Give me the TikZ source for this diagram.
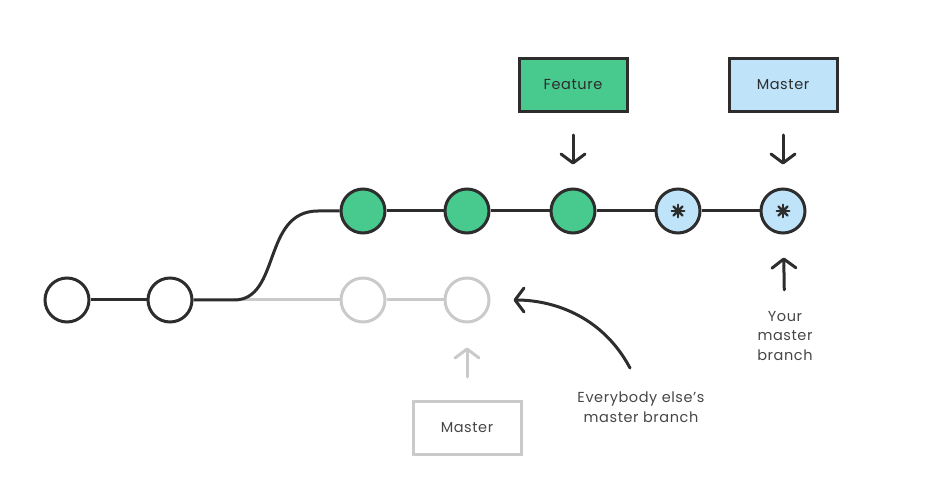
\documentclass[tikz,border=0pt]{standalone}
\usepackage{fontspec}
\setmainfont{Poppins}[LetterSpace=4]
\usepackage{tikz}
\usetikzlibrary{arrows.meta}
\definecolor{inkline}{RGB}{45,45,45}
\definecolor{ghostline}{RGB}{202,202,202}
\definecolor{featfill}{RGB}{72,201,142}
\definecolor{mastfill}{RGB}{191,228,250}
\definecolor{labeltext}{RGB}{70,70,70}

\newcommand\commitstar[1]{%
  \foreach \a in {0,45,90,135}
    \draw[inkline, line width=2.4pt, line cap=round]
      ([shift={(\a:6.3pt)}]#1.center) -- ([shift={(\a+180:6.3pt)}]#1.center);
  \fill[inkline] (#1.center) circle (3.8pt);}

\begin{document}
\begin{tikzpicture}[x=1pt, y=1pt,
  commit/.style={circle, draw=inkline, line width=3pt, minimum size=44pt,
    inner sep=0pt, fill=white},
  ghostcommit/.style={commit, draw=ghostline},
  branchbox/.style={rectangle, draw=inkline, line width=3pt, minimum width=108pt,
    minimum height=53pt, font=\fontsize{14.5}{16}\selectfont, text=inkline},
  ptr/.style={draw=inkline, line width=3pt, line cap=round,
    -{Straight Barb[length=9pt, width=24pt, round]}},
  note/.style={align=center, text=labeltext, font=\fontsize{14.5}{19.5}\selectfont}]
  \useasboundingbox (0,0) rectangle (949,482);

  \def\rowlo{182}  % old line
  \def\rowhi{271}  % new line

  % --- commits ---
  \node[commit] (c1) at (67,\rowlo) {};
  \node[commit] (c2) at (170,\rowlo) {};
  \node[ghostcommit] (g1) at (363,\rowlo) {};
  \node[ghostcommit] (g2) at (467,\rowlo) {};

  \node[commit, fill=featfill] (f1) at (363,\rowhi) {};
  \node[commit, fill=featfill] (f2) at (467,\rowhi) {};
  \node[commit, fill=featfill] (f3) at (573,\rowhi) {};
  \node[commit, fill=mastfill] (m1) at (678,\rowhi) {};
  \node[commit, fill=mastfill] (m2) at (783,\rowhi) {};
  \commitstar{m1}
  \commitstar{m2}

  % --- history lines ---
  \coordinate (fork) at (234,\rowlo);
  \draw[ghostline, line width=3pt] (fork) -- (g1);
  \draw[ghostline, line width=3pt] (g1) -- (g2);
  \draw[inkline, line width=3pt] (c1) -- (c2);
  \draw[inkline, line width=3pt] (c2) -- (fork)
    .. controls (281,\rowlo) and (262,\rowhi) .. (318,\rowhi) -- (f1);
  \draw[inkline, line width=3pt] (f1) -- (f2);
  \draw[inkline, line width=3pt] (f2) -- (f3);
  \draw[inkline, line width=3pt] (f3) -- (m1);
  \draw[inkline, line width=3pt] (m1) -- (m2);

  % --- branch boxes ---
  \node[branchbox, fill=featfill] (feature) at (573,397) {Feature};
  \node[branchbox, fill=mastfill] (master) at (783,397) {Master};
  \node[branchbox, draw=ghostline, text=labeltext] (oldmaster) at (467,54) {Master};

  \draw[ptr, shorten <=22pt, shorten >=23pt] (feature) -- (f3);
  \draw[ptr, shorten <=22pt, shorten >=23pt] (master) -- (m2);
  \draw[ptr, draw=ghostline, shorten <=23pt, shorten >=24pt] (oldmaster) -- (g2);

  % --- notes ---
  \node[note] (yours) at (785,146) {Your\\master\\branch};
  \draw[ptr, shorten <=18pt, shorten >=23pt] (yours) -- (m2);

  \node[note] (others) at (641,75) {Everybody else's\\master branch};
  \coordinate (tail) at (630,114);
  \draw[ptr, shorten >=23pt] (tail) to[out=118, in=0] (g2);
\end{tikzpicture}
\end{document}
